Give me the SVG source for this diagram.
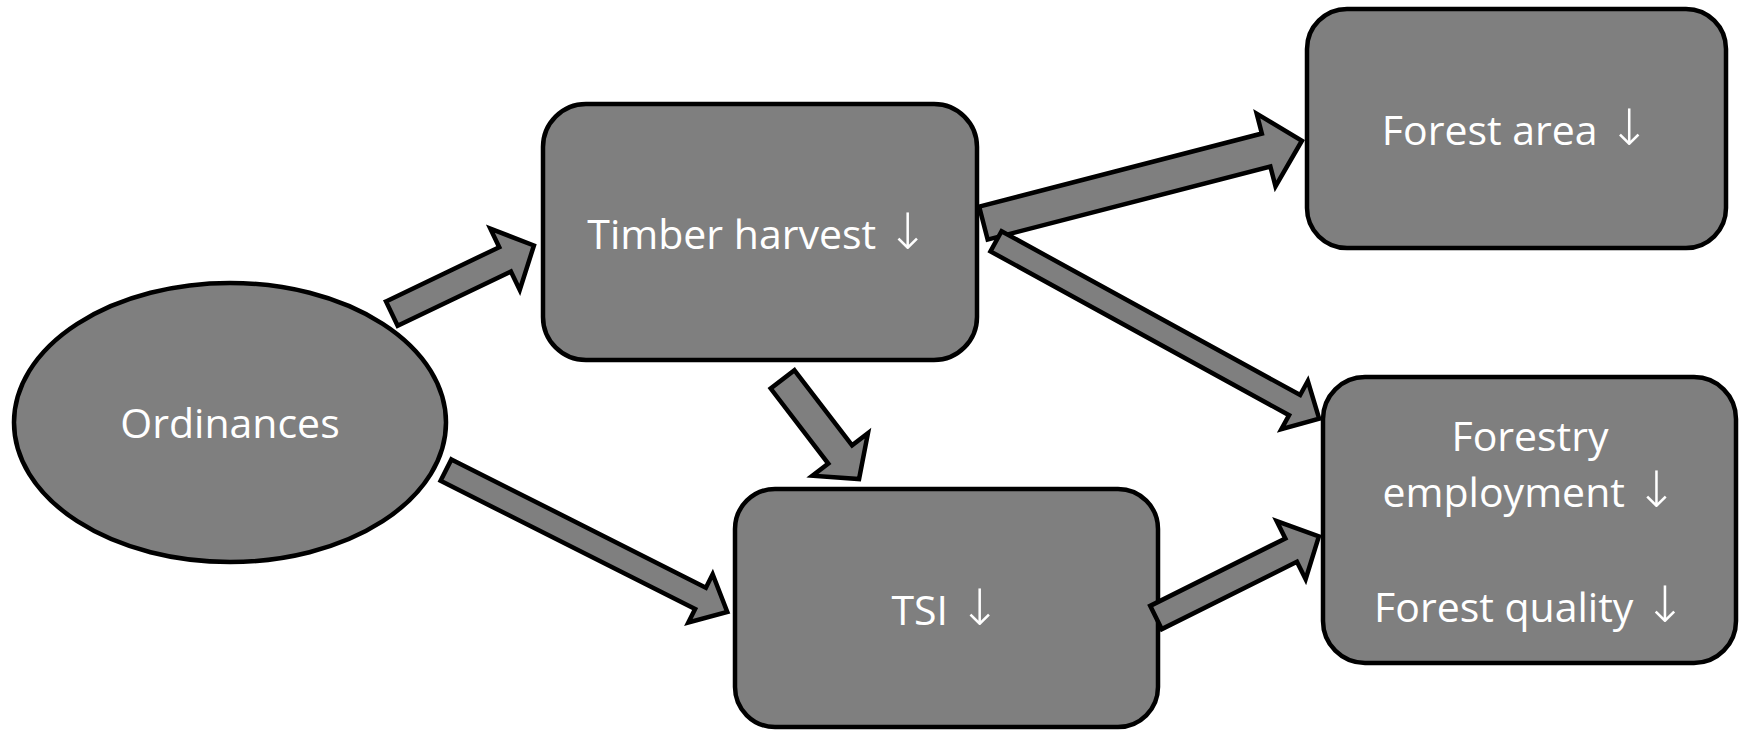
<svg xmlns="http://www.w3.org/2000/svg" width="1739" height="730" viewBox="0 0 1739 730">
<style>
.n{fill:#7f7f7f;stroke:#000;stroke-width:4.5}
.a{fill:#7f7f7f;stroke:#000;stroke-width:4.5;stroke-linejoin:miter;stroke-miterlimit:10}
.t{fill:#fff;font-family:"Open Sans","DejaVu Sans",sans-serif;font-size:41px;text-anchor:middle}
.ar{font-family:"DejaVu Sans",sans-serif;font-size:50px;font-weight:200}
</style>
<rect width="1739" height="730" fill="#fff"/>
<g id="ordinances">
<ellipse class="n" cx="230" cy="422.5" rx="216" ry="139.5"/>
<text class="t" x="230" y="438">Ordinances</text>
</g>
<g id="timber-harvest">
<rect class="n" x="543" y="104" width="434" height="256" rx="43" ry="43"/>
<text class="t" x="758" y="249">Timber harvest <tspan class="ar">↓</tspan></text>
</g>
<g id="forest-area">
<rect class="n" x="1307" y="9" width="419" height="239" rx="40" ry="40"/>
<text class="t" x="1516" y="145">Forest area <tspan class="ar">↓</tspan></text>
</g>
<g id="forestry">
<rect class="n" x="1323" y="377" width="413" height="286" rx="42" ry="42"/>
<text class="t" x="1530" y="451">Forestry</text>
<text class="t" x="1530" y="507">employment <tspan class="ar">↓</tspan></text>
<text class="t" x="1530" y="622">Forest quality <tspan class="ar">↓</tspan></text>
</g>
<g id="tsi">
<rect class="n" x="735" y="489" width="423" height="238" rx="40" ry="40"/>
<text class="t" x="946" y="625">TSI <tspan class="ar">↓</tspan></text>
</g>
<g id="connectors">
<polygon class="a" transform="translate(391.8,313.6) rotate(-25.6)" points="0,-13.5 125.6,-13.5 125.6,-34 157.6,0 125.6,34 125.6,13.5 0,13.5"/>
<polygon class="a" transform="translate(983.4,223.1) rotate(-14.5)" points="0,-17 292,-17 292,-37.5 329,0 292,37.5 292,17 0,17"/>
<polygon class="a" transform="translate(996,241.3) rotate(28.75)" points="0,-11.5 340.6,-11.5 340.6,-27.5 368.6,0 340.6,27.5 340.6,11.5 0,11.5"/>
<polygon class="a" transform="translate(782.6,379.4) rotate(52.5)" points="0,-15 94.6,-15 94.6,-35 125.6,0 94.6,35 94.6,15 0,15"/>
<polygon class="a" transform="translate(446,470.1) rotate(26.75)" points="0,-12 285,-12 285,-27 315,0 285,27 285,12 0,12"/>
<polygon class="a" transform="translate(1156,617.5) rotate(-26.5)" points="0,-13 151,-13 151,-32.5 182,0 151,32.5 151,13 0,13"/>
</g>
</svg>
